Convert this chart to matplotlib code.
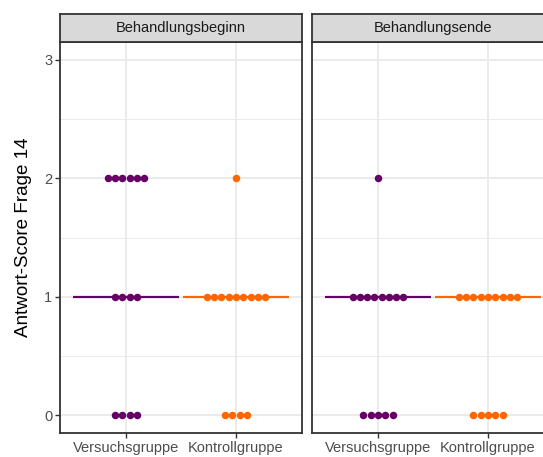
import numpy as np
import matplotlib.pyplot as plt

plt.rcParams['font.family'] = ['Liberation Sans', 'DejaVu Sans']

facets = ['Behandlungsbeginn', 'Behandlungsende']
groups = ['Versuchsgruppe', 'Kontrollgruppe']
scores = [0, 1, 2, 3]
colors = {'Versuchsgruppe': '#660066', 'Kontrollgruppe': '#FF6600'}

# number of answers per score (0, 1, 2, 3)
counts_beginn_vg = [4, 4, 6, 0]
counts_beginn_kg = [4, 9, 1, 0]
counts_ende_vg = [5, 8, 1, 0]
counts_ende_kg = [5, 9, 0, 0]

medians_beginn = [1, 1]
medians_ende = [1, 1]

data = {
    'Behandlungsbeginn': ([counts_beginn_vg, counts_beginn_kg], medians_beginn),
    'Behandlungsende': ([counts_ende_vg, counts_ende_kg], medians_ende),
}

W, H = 543, 457
fig = plt.figure(figsize=(W / 100, H / 100), dpi=100)

panel_w = 242 / W
panel_b = 1 - 433 / H
panel_h = (433 - 42) / H
strip_h = 28 / H
lefts = [60 / W, 312 / W]

dot_step = 0.066
for k, facet in enumerate(facets):
    ax = fig.add_axes([lefts[k], panel_b, panel_w, panel_h])
    counts, meds = data[facet]
    ax.set_xlim(0.4, 2.6)
    ax.set_ylim(-0.15, 3.15)
    ax.set_yticks(scores)
    ax.set_yticks([0.5, 1.5, 2.5], minor=True)
    ax.set_xticks([1, 2])
    ax.grid(True, which='major', color='#EBEBEB', linewidth=1.4, zorder=0)
    ax.grid(True, which='minor', axis='y', color='#EBEBEB', linewidth=0.7, zorder=0)
    ax.tick_params(which='minor', length=0)
    ax.tick_params(which='major', length=3.5, width=1, color='#333333',
                   labelsize=10.5, labelcolor='#4D4D4D', pad=2)
    ax.set_xticklabels(groups)
    if k == 0:
        ax.set_ylabel('Antwort-Score Frage 14', fontsize=13.6, labelpad=9)
    else:
        ax.tick_params(axis='y', left=False, labelleft=False)
    for s in ax.spines.values():
        s.set_color('#333333')
        s.set_linewidth(1.3)

    for g, grp in enumerate(groups):
        xc = g + 1
        ax.plot([xc - 0.48, xc + 0.48], [meds[g], meds[g]], color=colors[grp],
                linewidth=1.6, solid_capstyle='butt', zorder=2)
        for sc, n in zip(scores, counts[g]):
            if n == 0:
                continue
            xs = xc + (np.arange(n) - (n - 1) / 2) * dot_step
            ax.plot(xs, [sc] * n, 'o', color=colors[grp], markersize=5.4,
                    markeredgewidth=0, zorder=3)

    sax = fig.add_axes([lefts[k], panel_b + panel_h, panel_w, strip_h])
    sax.set_facecolor('#D9D9D9')
    sax.set_xticks([])
    sax.set_yticks([])
    for s in sax.spines.values():
        s.set_color('#333333')
        s.set_linewidth(1.3)
    sax.text(0.5, 0.5, facet, ha='center', va='center', fontsize=10.5,
             color='#1A1A1A', transform=sax.transAxes)

fig.savefig('out.png', dpi=100)
